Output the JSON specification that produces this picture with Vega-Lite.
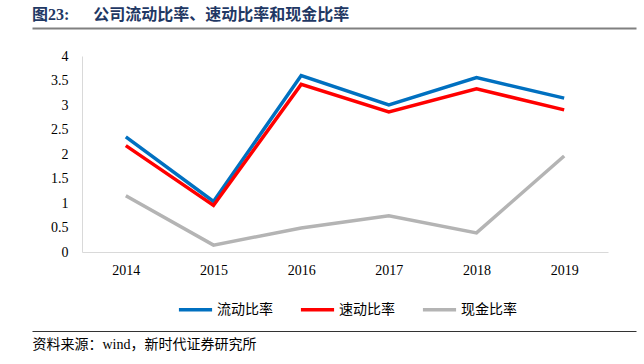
{
  "$schema": "https://vega.github.io/schema/vega-lite/v6.json",
  "width": 526,
  "height": 196,
  "autosize": {"type": "none"},
  "padding": {"left": 82, "top": 56, "right": 36, "bottom": 112},
  "background": "white",
  "config": {"view": {"stroke": null}, "font": "Liberation Serif, Noto Sans CJK SC"},
  "title": {
    "text": "图23:\u3000\u2002公司流动比率、速动比率和现金比率",
    "anchor": "start",
    "frame": "bounds",
    "fontSize": 16,
    "fontWeight": "bold",
    "color": "#1F3864",
    "offset": 5,
    "font": "Liberation Serif, Noto Sans CJK SC"
  },
  "data": {
    "values": [
      {"year": "2014", "series": "流动比率", "value": 2.35},
      {"year": "2015", "series": "流动比率", "value": 1.03},
      {"year": "2016", "series": "流动比率", "value": 3.6},
      {"year": "2017", "series": "流动比率", "value": 3.0},
      {"year": "2018", "series": "流动比率", "value": 3.56},
      {"year": "2019", "series": "流动比率", "value": 3.14},
      {"year": "2014", "series": "速动比率", "value": 2.17},
      {"year": "2015", "series": "速动比率", "value": 0.95},
      {"year": "2016", "series": "速动比率", "value": 3.42},
      {"year": "2017", "series": "速动比率", "value": 2.86},
      {"year": "2018", "series": "速动比率", "value": 3.33},
      {"year": "2019", "series": "速动比率", "value": 2.9},
      {"year": "2014", "series": "现金比率", "value": 1.15},
      {"year": "2015", "series": "现金比率", "value": 0.14},
      {"year": "2016", "series": "现金比率", "value": 0.49},
      {"year": "2017", "series": "现金比率", "value": 0.74},
      {"year": "2018", "series": "现金比率", "value": 0.39},
      {"year": "2019", "series": "现金比率", "value": 1.96}
    ]
  },
  "layer": [
    {
      "mark": {"type": "line", "strokeWidth": 3.5, "strokeCap": "butt", "strokeJoin": "miter"},
      "encoding": {
        "x": {
          "field": "year", "type": "ordinal",
          "scale": {"type": "point", "padding": 0.5},
          "axis": {"orient": "bottom", "title": null, "labelAngle": 0, "ticks": false, "domainColor": "#d9d9d9", "labelFontSize": 14, "labelColor": "#000000", "labelPadding": 11, "labelFont": "Liberation Serif"}
        },
        "y": {
          "field": "value", "type": "quantitative",
          "scale": {"domain": [0, 4]},
          "axis": {"title": null, "values": [0, 0.5, 1, 1.5, 2, 2.5, 3, 3.5, 4], "format": "~g", "grid": false, "ticks": false, "domainColor": "#d9d9d9", "labelPadding": 14, "labelFontSize": 14, "labelColor": "#000000", "labelFont": "Liberation Serif"}
        },
        "color": {
          "field": "series", "type": "nominal",
          "scale": {"domain": ["流动比率", "速动比率", "现金比率"], "range": ["#0070C0", "#FF0000", "#B4B4B4"]},
          "legend": {
            "title": null, "orient": "none", "direction": "horizontal",
            "legendX": 95, "legendY": 235,
            "symbolType": "stroke", "symbolSize": 1100, "symbolStrokeWidth": 3.5,
            "labelFontSize": 14, "labelColor": "#000000", "labelOffset": 3, "columnPadding": 20,
            "labelFont": "Liberation Serif, Noto Sans CJK SC"
          }
        }
      }
    },
    {
      "mark": {"type": "point", "opacity": 0},
      "encoding": {
        "x": {
          "field": "year", "type": "ordinal",
          "scale": {"type": "point", "range": [-50, 554]},
          "axis": {"orient": "top", "offset": 28, "labels": false, "ticks": false, "title": null, "domainColor": "#808080", "domainWidth": 2}
        }
      }
    },
    {
      "mark": {"type": "point", "opacity": 0},
      "encoding": {
        "x": {
          "field": "year", "type": "ordinal",
          "scale": {"type": "point", "range": [-50, 554]},
          "axis": {
            "orient": "bottom", "offset": 79, "labels": false, "ticks": false,
            "domainColor": "#333333", "domainWidth": 1,
            "title": "资料来源：wind，新时代证券研究所",
            "titleAnchor": "start", "titleAlign": "left", "titlePadding": 6,
            "titleFontSize": 14, "titleFontWeight": "normal", "titleColor": "#000000",
            "titleFont": "Liberation Serif, Noto Sans CJK SC"
          }
        }
      }
    }
  ],
  "resolve": {"scale": {"x": "independent"}, "axis": {"x": "independent"}}
}
